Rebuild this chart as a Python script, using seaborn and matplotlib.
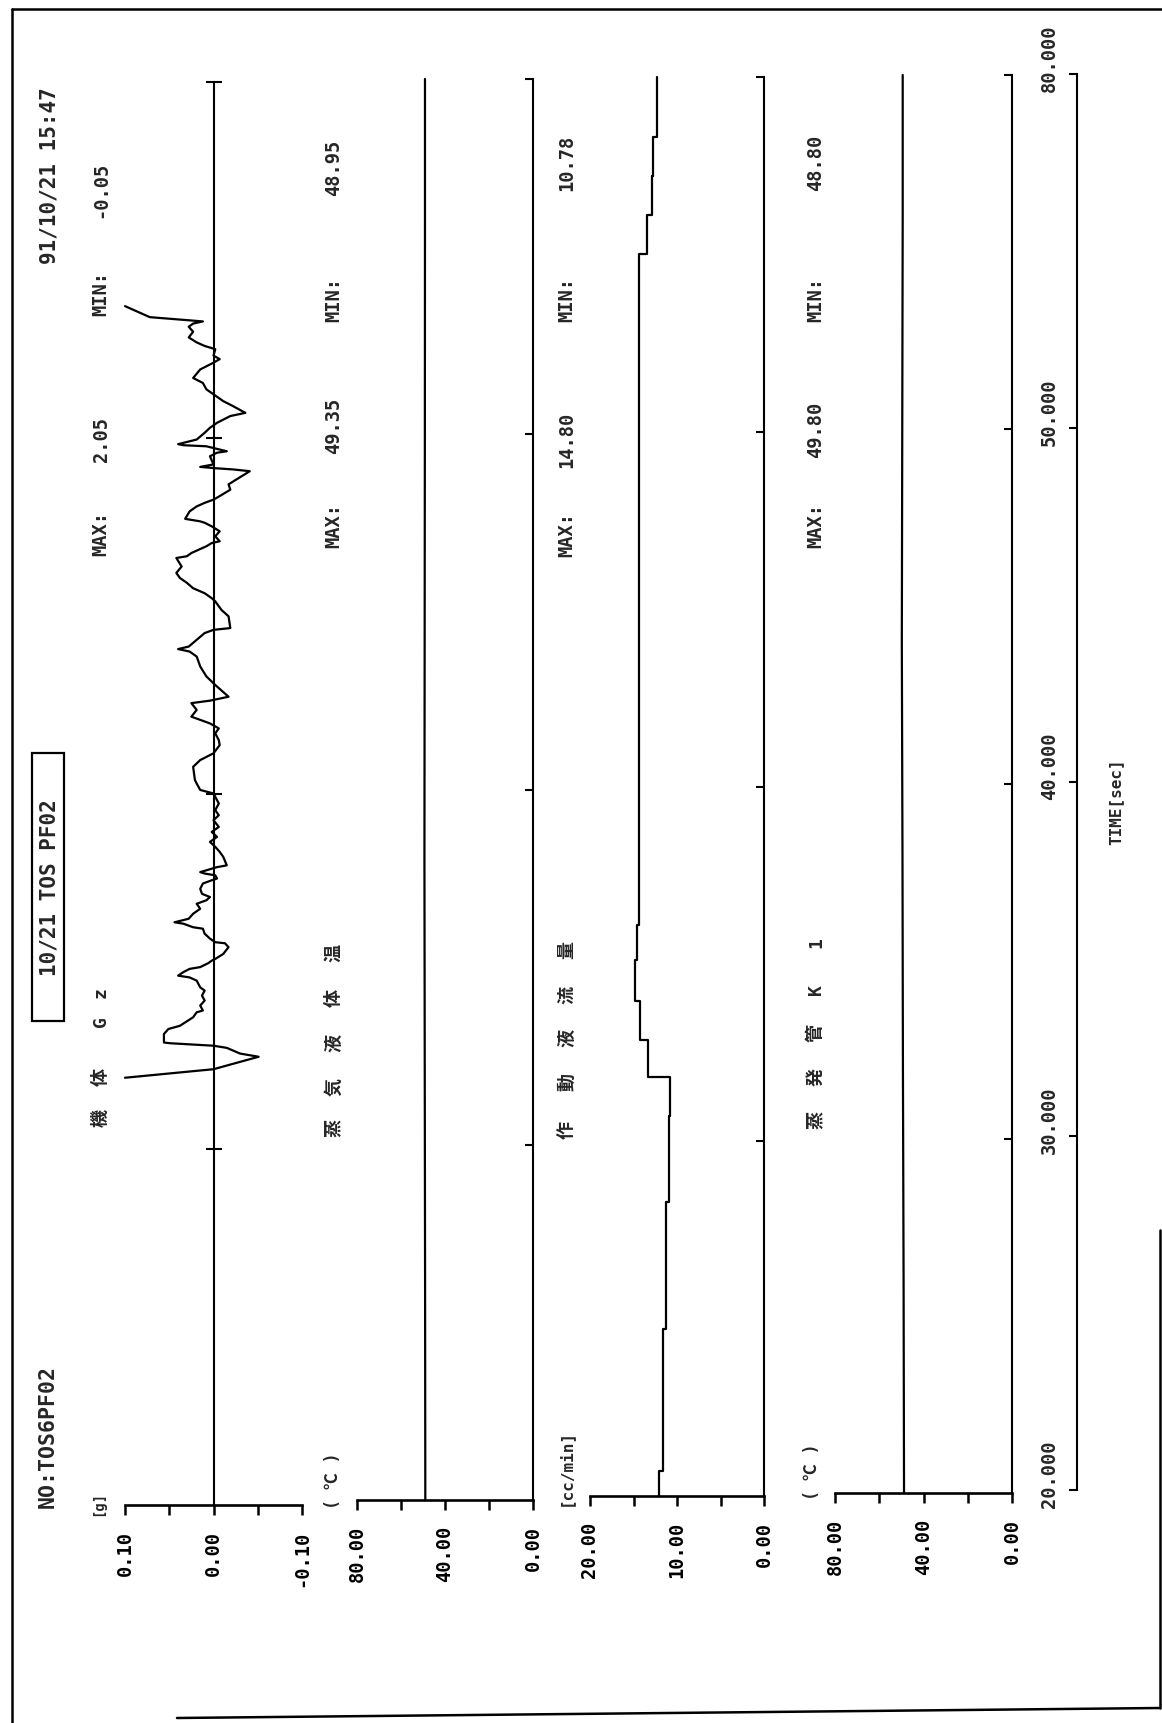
import matplotlib
matplotlib.use("Agg")
import matplotlib.pyplot as plt
from matplotlib.lines import Line2D
from matplotlib.patches import Rectangle
from matplotlib.transforms import blended_transform_factory
import seaborn as sns

# ---------------- data ----------------
time_ticks = [20, 30, 40, 50, 60]
time_tick_labels = ["20.000", "30.000", "40.000", "50.000", "80.000"]

# airframe Gz [g]; trace is clipped at the +0.10 edge of the scale
gz_time = [32.01, 32.25, 32.60, 32.69, 32.85, 32.91, 32.98, 33.00, 33.24, 33.38,
           33.47, 33.71, 33.85, 33.90, 34.04, 34.18, 34.32, 34.46, 34.55, 34.74,
           34.83, 34.88, 34.98, 35.07, 35.12, 35.23, 35.30, 35.35, 35.49, 35.68,
           35.79, 35.82, 35.92, 36.06, 36.20, 36.24, 36.34, 36.38, 36.48, 36.62,
           36.76, 36.90, 37.00, 37.09, 37.18, 37.32, 37.47, 37.56, 37.61, 37.70,
           37.75, 37.79, 37.93, 37.98, 38.22, 38.36, 38.50, 38.64, 38.78, 38.92,
           39.06, 39.25, 39.39, 39.53, 39.72, 39.91, 40.00, 40.10, 40.28, 40.38,
           40.75, 40.94, 41.13, 41.36, 41.50, 41.69, 41.83, 41.97, 42.07, 42.16,
           42.35, 42.54, 42.61, 42.72, 43.05, 43.29, 43.57, 43.85, 43.99, 44.06,
           44.13, 44.32, 44.51, 44.60, 44.65, 44.98, 45.16, 45.40, 45.49, 45.63,
           45.77, 45.92, 46.06, 46.20, 46.38, 46.62, 46.67, 46.76, 46.85, 46.95,
           47.04, 47.09, 47.23, 47.37, 47.51, 47.61, 47.65, 47.72, 47.93, 48.07,
           48.17, 48.26, 48.36, 48.54, 48.69, 48.83, 49.06, 49.11, 49.14, 49.18,
           49.25, 49.48, 49.58, 49.62, 49.76, 49.79, 49.82, 49.95, 50.14, 50.28,
           50.42, 50.61, 50.70, 50.89, 51.03, 51.22, 51.36, 51.54, 51.68, 51.92,
           52.11, 52.21, 52.31, 52.49, 52.58, 52.68, 52.82, 52.98, 53.12, 53.21,
           53.27, 53.39, 53.70]
gz_value = [0.100, 0.000, -0.051, -0.030, -0.015, 0.000, 0.049, 0.056, 0.056, 0.051,
            0.038, 0.023, 0.019, 0.012, 0.015, 0.010, 0.013, 0.010, 0.015, 0.019,
            0.027, 0.040, 0.034, 0.027, 0.015, 0.006, 0.002, -0.002, -0.011, -0.017,
            -0.013, -0.002, 0.004, 0.010, 0.012, 0.023, 0.034, 0.044, 0.028, 0.023,
            0.015, 0.019, 0.008, 0.004, 0.013, 0.015, 0.012, 0.002, -0.004, -0.002,
            0.010, 0.015, -0.004, -0.015, -0.011, -0.007, -0.002, 0.004, -0.004, 0.002,
            -0.006, 0.000, -0.006, -0.002, -0.006, -0.002, 0.000, 0.015, 0.019, 0.021,
            0.023, 0.015, 0.000, -0.007, -0.006, -0.002, -0.006, 0.004, 0.015, 0.025,
            0.019, 0.025, 0.004, -0.017, -0.002, 0.008, 0.015, 0.019, 0.027, 0.040,
            0.028, 0.019, 0.010, 0.000, -0.019, -0.017, -0.009, -0.002, 0.002, 0.010,
            0.023, 0.030, 0.038, 0.042, 0.036, 0.042, 0.030, 0.025, 0.017, 0.008,
            0.002, -0.007, -0.002, -0.007, 0.002, 0.010, 0.015, 0.032, 0.027, 0.019,
            0.010, 0.000, -0.007, -0.019, -0.017, -0.026, -0.041, -0.022, -0.004, 0.015,
            0.000, 0.004, -0.004, -0.015, 0.008, 0.034, 0.040, 0.019, 0.010, 0.004,
            -0.004, -0.019, -0.036, -0.022, -0.011, 0.000, 0.008, 0.012, 0.023, 0.015,
            0.000, -0.007, 0.000, -0.002, 0.010, 0.019, 0.028, 0.023, 0.028, 0.023,
            0.012, 0.072, 0.100]
gz_max_text = "2.05"

# vapour temperature [degC]
vap_time = [20, 26, 32, 38, 44, 50, 56, 60]
vap_temp = [48.95, 49.05, 49.20, 49.35, 49.25, 49.15, 49.10, 49.10]

# working fluid flow rate [cc/min], value held from each time onward
flow_time = [20.0, 20.7, 24.7, 28.3, 30.7, 31.8, 32.85, 33.95, 35.1, 36.1,
             55.0, 56.1, 57.2, 58.3, 60.0]
flow_rate = [12.05, 11.60, 11.25, 10.90, 10.78, 13.30, 14.25, 14.80, 14.55, 14.35,
             13.45, 12.90, 12.75, 12.35, 12.35]

# evaporator tube K1 [degC]
evap_time = [20, 26, 32, 38, 44, 50, 56, 60]
evap_temp = [48.80, 49.00, 49.30, 49.50, 49.80, 49.60, 49.40, 49.40]

# ---------------- style ----------------
sns.set_style("white", {"axes.edgecolor": "black", "xtick.color": "black",
                        "ytick.color": "black", "xtick.bottom": True,
                        "ytick.right": True})
MONO = ["DejaVu Sans Mono", "Noto Sans CJK JP"]
plt.rcParams["font.family"] = MONO

W, H = 1162, 1723
fig = plt.figure(figsize=(W / 100, H / 100), dpi=100)
fig.patch.set_facecolor("white")


def fx(x):
    return x / W


def fy(y):
    return 1 - y / H


def panel_axes(x_left, x_right, y_bottom, y_top):
    return fig.add_axes([fx(x_left), fy(y_bottom),
                         (x_right - x_left) / W, (y_bottom - y_top) / H])


def vtext(x, y, s, size=13.5, **kw):
    fig.text(fx(x), fy(y), s, rotation=90, ha="center", va="center",
             fontsize=size, fontweight="bold", family=MONO, **kw)


def style_panel(ax, lim, ticks, labels, zero_mid=False):
    ax.set_facecolor("none")
    ax.set_ylim(20, 60)
    ax.set_xlim(*lim)
    ax.set_xlabel("")
    ax.set_ylabel("")
    ax.spines["top"].set_visible(False)
    ax.spines["left"].set_visible(False)
    ax.spines["bottom"].set_linewidth(1.9)
    ax.spines["right"].set_linewidth(1.5)
    ax.set_xticks(ticks)
    ax.set_xticklabels(labels, rotation=90, fontsize=13.5, fontweight="bold",
                       family=MONO)
    ax.tick_params(axis="x", bottom=True, top=False, direction="out",
                   length=7.5, width=1.8, pad=11)
    ax.yaxis.set_ticks_position("right")
    ax.set_yticks([30, 40, 50, 60])
    if zero_mid:
        ax.spines["right"].set_position(("data", 0.0))
        ax.tick_params(axis="y", right=True, left=False, direction="inout",
                       length=12, width=1.5, labelright=False, labelleft=False)
    else:
        ax.tick_params(axis="y", right=True, left=False, direction="in",
                       length=6, width=1.5, labelright=False, labelleft=False)


line_kw = dict(color="black", linewidth=1.6, orient="y", estimator=None,
               sort=False, clip_on=False)

# panel 1: airframe Gz
ax1 = panel_axes(125, 302, 1505, 82)
sns.lineplot(x=gz_value, y=gz_time, ax=ax1, **line_kw)
style_panel(ax1, (0.10, -0.10), [0.10, 0.05, 0.0, -0.05, -0.10],
            ["0.10", "", "0.00", "", "-0.10"], zero_mid=True)

# panel 2: vapour temperature
ax2 = panel_axes(357, 533, 1500, 79)
sns.lineplot(x=vap_temp, y=vap_time, ax=ax2, **line_kw)
style_panel(ax2, (80, 0), [80, 60, 40, 20, 0],
            ["80.00", "", "40.00", "", "0.00"])

# panel 3: working fluid flow rate
ax3 = panel_axes(590, 764, 1496, 77)
sns.lineplot(x=flow_rate, y=flow_time, ax=ax3, drawstyle="steps-pre", **line_kw)
style_panel(ax3, (20, 0), [20, 15, 10, 5, 0],
            ["20.00", "", "10.00", "", "0.00"])

# panel 4: evaporator tube K1
ax4 = panel_axes(835, 1012, 1493, 75)
sns.lineplot(x=evap_temp, y=evap_time, ax=ax4, **line_kw)
style_panel(ax4, (80, 0), [80, 60, 40, 20, 0],
            ["80.00", "", "40.00", "", "0.00"])

# shared time axis
axt = panel_axes(1010, 1077, 1490, 74)
axt.set_facecolor("none")
axt.set_ylim(20, 60)
axt.set_xlim(0, 1)
for s in ["top", "left", "bottom"]:
    axt.spines[s].set_visible(False)
axt.spines["right"].set_linewidth(1.5)
axt.set_xticks([])
axt.yaxis.set_ticks_position("right")
axt.set_yticks(time_ticks)
axt.tick_params(axis="y", right=True, left=False, direction="in", length=6,
                width=1.5, labelright=False, labelleft=False)
tr = blended_transform_factory(axt.transAxes, axt.transData)
for t, lab in zip(time_ticks, time_tick_labels):
    axt.text(0.585, t + 0.45, lab, transform=tr, rotation=90, ha="center",
             va="center", fontsize=13.5, fontweight="bold", family=MONO)
vtext(1116, 802, "TIME[sec]", size=11.5)

# header texts
vtext(48, 1437, "NO:TOS6PF02", size=15.5)
vtext(50, 888, "10/21 TOS PF02", size=15)
fig.add_artist(Rectangle((fx(32), fy(1021)), (64 - 32) / W, (1021 - 753) / H,
                         transform=fig.transFigure, fill=False, lw=1.6,
                         edgecolor="black"))
vtext(50, 176, "91/10/21 15:47", size=15)

# panel captions, one glyph at a time along the column
captions = [
    (101, ["機", "体", "G", "z"], [1118, 1077, 1022, 993]),
    (334, ["蒸", "気", "液", "体", "温"], [1128, 1087, 1043, 998, 953]),
    (567, ["作", "動", "液", "流", "量"], [1130, 1082, 1038, 995, 950]),
    (816, ["蒸", "発", "管", "K", "1"], [1120, 1077, 1033, 990, 943]),
]
for x, chars, ys in captions:
    for ch, y in zip(chars, ys):
        vtext(x, y, ch, size=13)

# units
vtext(98, 1503, "[g]", size=10)
vtext(333, 1481, "( ℃ )", size=12)
vtext(565, 1467, "[cc/min]", size=11.5)
vtext(812, 1472, "( ℃ )", size=12)

# MAX / MIN readouts
stats = [
    (101, gz_max_text, f"{min(gz_value):.2f}", (534, 439, 293, 190)),
    (334, f"{max(vap_temp):.2f}", f"{min(vap_temp):.2f}", (525, 426, 300, 168)),
    (567, f"{max(flow_rate):.2f}", f"{min(flow_rate):.2f}", (535, 440, 300, 163)),
    (816, f"{max(evap_temp):.2f}", f"{min(evap_temp):.2f}", (525, 430, 300, 163)),
]
for x, mx, mn, (y_max, y_mxv, y_min, y_mnv) in stats:
    vtext(x, y_max, "MAX:")
    vtext(x, y_mxv, mx)
    vtext(x, y_min, "MIN:")
    vtext(x, y_mnv, mn)

# page frame
frame = [
    ((12, 9), (1162, 9)),
    ((12, 9), (12, 1723)),
    ((177, 1718), (1160, 1708)),
    ((1160, 1708), (1160, 1230)),
]
for (xa, ya), (xb, yb) in frame:
    fig.add_artist(Line2D([fx(xa), fx(xb)], [fy(ya), fy(yb)],
                          transform=fig.transFigure, color="black", lw=1.8))

fig.savefig("out.png", dpi=100, facecolor="white")
